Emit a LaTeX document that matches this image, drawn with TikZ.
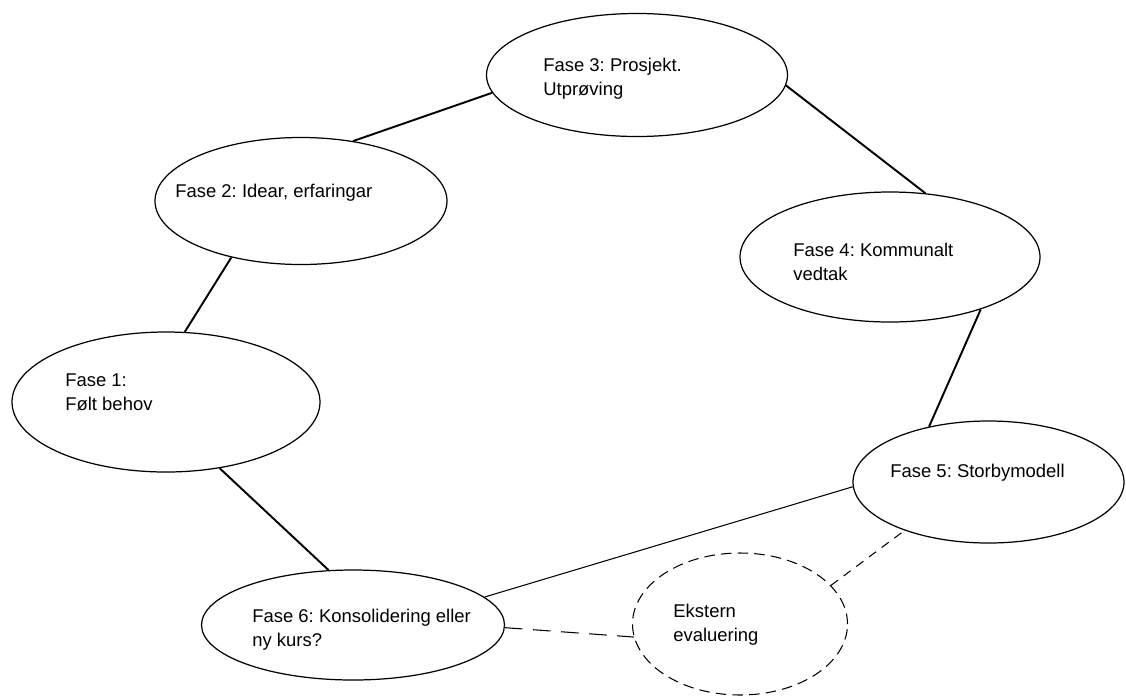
\documentclass[tikz,border=0pt]{standalone}
\usepackage{fontspec}
\setmainfont{Liberation Sans}
\usetikzlibrary{shapes.geometric}
\frenchspacing

\tikzset{
  fase/.style={ellipse, draw, line width=0.7pt, inner sep=0pt},
  tekst/.style={anchor=west, align=left, inner sep=0pt, font=\fontsize{10.5pt}{13.5pt}\selectfont},
  kant/.style={line width=1.1pt},
}

\begin{document}
\begin{tikzpicture}
    \useasboundingbox (0,0) rectangle (22.52,-13.94);

    % 楕円
    \node[fase, minimum width=6.02cm, minimum height=2.46cm] (F3) at (12.74, -1.50) {};
    \node[fase, minimum width=5.84cm, minimum height=2.54cm] (F2) at (6.02, -4.02) {};
    \node[fase, minimum width=6.00cm, minimum height=2.60cm] (F4) at (17.80, -5.14) {};
    \node[fase, minimum width=6.16cm, minimum height=2.80cm] (F1) at (3.32, -8.04) {};
    \node[fase, minimum width=5.42cm, minimum height=2.44cm] (F5) at (19.77, -9.64) {};
    \node[fase, minimum width=6.06cm, minimum height=2.20cm] (F6) at (7.06, -12.50) {};
    \node[fase, dash pattern=on 6pt off 3.5pt, line width=0.6pt, minimum width=4.30cm, minimum height=2.84cm] (E) at (14.80, -12.48) {};

    % テキスト
    \node[tekst] (T3) at (10.86, -1.58) {Fase 3: Prosjekt.\\Utprøving};
    \node[tekst] (T2) at (3.50, -3.86) {Fase 2: Idear, erfaringar};
    \node[tekst] (T4) at (15.86, -5.24) {Fase 4: Kommunalt\\vedtak};
    \node[tekst] (T1) at (1.30, -7.84) {Fase 1:\\Følt behov};
    \node[tekst] (T5) at (17.80, -9.46) {Fase 5: Storbymodell};
    \node[tekst] (T6) at (5.04, -12.60) {Fase 6: Konsolidering eller\\ny kurs?};
    \node[tekst] (TE) at (13.46, -12.50) {Ekstern\\evaluering};

    % エッジ
    \draw[kant] (F2.49) -- (F3.187);
    \draw[kant] (F3.356) -- (F4.61);
    \draw[kant] (F2.219) -- (F1.75);
    \draw[kant] (F4.330) -- (F5.137);
    \draw[kant] (F1.309) -- (F6.114);
    \draw[line width=0.6pt] (F6.12) -- (F5.182);
    \draw[line width=0.6pt, dash pattern=on 10pt off 6pt] (F6.359) -- (E.187);
    \draw[line width=0.6pt, dash pattern=on 5pt off 4pt] (E.23) -- (F5.210);
  \end{tikzpicture}
\end{document}
